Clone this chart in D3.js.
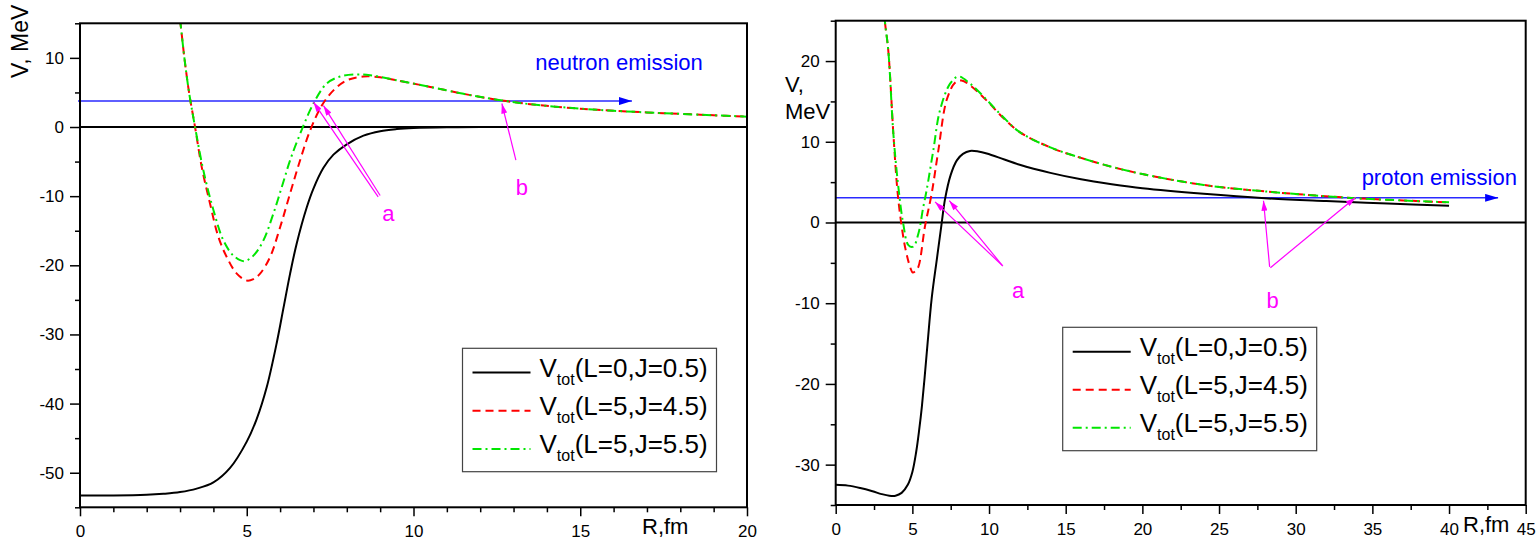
<!DOCTYPE html>
<html><head><meta charset="utf-8">
<script src="https://cdn.jsdelivr.net/npm/d3@7"></script>
<style>
html,body{margin:0;padding:0;background:#fff;}
svg{display:block;font-family:"Liberation Sans",Arial,sans-serif;}
</style></head><body>
<svg id="chart" width="1537" height="543"></svg>
<script>
// ---- Neutron channel: total potential vs distance (R in fm, V in MeV) ----
const neutronL0 = [[0,-53.3],[1,-53.3],[2,-53.2],[2.5,-53.05],[3,-52.8],[3.5,-52.3],[4,-51.4],[4.5,-49.3],[5,-45.5],[5.3,-42.2],[5.6,-37.6],[5.9,-31.2],[6.1,-26.2],[6.3,-21.2],[6.5,-16.8],[6.8,-11.6],[7,-8.9],[7.3,-5.9],[7.6,-4.0],[8,-2.5],[8.5,-1.25],[9,-0.6],[9.5,-0.3],[10,-0.15],[11,-0.04],[12,-0.01],[14,0],[20,0]];
const neutronL5J45 = [[2.85,21],[3.0,15.5],[3.13,10],[3.27,5],[3.45,0],[3.65,-5.8],[3.9,-11.1],[4.15,-15.9],[4.4,-18.8],[4.7,-21.2],[5.0,-22.2],[5.2,-22.0],[5.4,-21.2],[5.7,-18.8],[6.0,-14.5],[6.3,-9.6],[6.6,-4.8],[6.9,-0.5],[7.25,3.1],[7.6,5.3],[8.0,6.75],[8.5,7.3],[9.0,7.2],[9.5,6.75],[10.5,5.8],[11.5,4.8],[12.5,3.95],[13.5,3.3],[15,2.65],[16,2.35],[17.5,2.0],[19,1.7],[20,1.5]];
const neutronL5J55 = [[2.85,21],[3.0,15.5],[3.13,10],[3.27,5],[3.45,0],[3.7,-6.3],[4.0,-12],[4.3,-16.4],[4.6,-18.6],[4.92,-19.4],[5.2,-18.6],[5.5,-16.4],[5.8,-12.5],[6.05,-8.7],[6.3,-4.8],[6.6,-1.0],[7.0,3.4],[7.4,6.3],[7.8,7.3],[8.3,7.6],[8.7,7.5],[9.5,6.75],[10.5,5.8],[11.5,4.8],[12.5,3.95],[13.5,3.3],[15,2.65],[16,2.35],[17.5,2.0],[19,1.7],[20,1.5]];
const neutronXTicks = [0,5,10,15,20];
const neutronYTicks = [-50,-40,-30,-20,-10,0,10];
const neutronEmission = 3.75;

// ---- Proton channel ----
const protonL0 = [[0,-32.5],[0.8,-32.6],[1.6,-32.9],[2.4,-33.3],[3.0,-33.65],[3.5,-33.85],[3.9,-33.85],[4.3,-33.5],[4.7,-32.5],[5.0,-30.9],[5.25,-28.4],[5.45,-25.6],[5.62,-22.8],[5.8,-19.2],[6.0,-14.8],[6.26,-9.4],[6.6,-4.5],[6.91,-0.1],[7.13,2.9],[7.5,5.9],[7.9,7.7],[8.3,8.5],[8.76,8.87],[9.3,8.8],[9.85,8.55],[11,7.8],[12,7.15],[14,6.15],[16,5.35],[18,4.75],[20,4.25],[24,3.55],[28,3.0],[32,2.65],[36,2.35],[40,2.06]];
const protonL5J45 = [[3.05,28],[3.2,25],[3.43,21.3],[3.76,11],[4.0,4.5],[4.19,1.1],[4.52,-3.0],[4.85,-5.5],[5.02,-6.2],[5.2,-6.0],[5.39,-5.5],[5.82,-0.5],[6.26,3.6],[6.7,9.0],[7.24,15.2],[7.78,17.3],[8.2,17.6],[8.76,17.0],[9.85,15.1],[10.9,13.0],[12,11.2],[14,9.3],[16,8.0],[18,6.9],[20,6.0],[24,4.65],[28,3.85],[34,3.0],[40,2.5]];
const protonL5J55 = [[3.05,28],[3.2,25],[3.43,21.3],[3.76,11],[4.08,4.5],[4.4,-0.1],[4.74,-2.8],[5.06,-3.0],[5.39,-1.4],[5.71,1.9],[5.93,4.0],[6.37,9.0],[6.8,13.9],[7.46,17.2],[8.0,18.1],[8.76,17.2],[9.85,15.2],[10.9,13.1],[12,11.2],[14,9.3],[16,8.0],[18,6.9],[20,6.0],[24,4.65],[28,3.85],[34,3.0],[40,2.5]];
const protonXTicks = [0,5,10,15,20,25,30,35,40,45];
const protonYTicks = [-30,-20,-10,0,10,20];
const protonEmission = 3.05;

// ---- Shared legend entries ----
const seriesLabels = ["(L=0,J=0.5)","(L=5,J=4.5)","(L=5,J=5.5)"];
const seriesColors = ["#000000","#ff0000","#00e600"];
const seriesDash = [null,"8,5","9,4,2,4"];

const svg = d3.select("#chart");
const defs = svg.append("defs");
defs.append("marker").attr("id","headMag").attr("viewBox","0 0 10 6")
  .attr("refX",10).attr("refY",3).attr("markerWidth",11).attr("markerHeight",6)
  .attr("orient","auto").attr("markerUnits","userSpaceOnUse")
  .append("path").attr("d","M0,0L10,3L0,6Z").attr("fill","#ff00ff");
defs.append("marker").attr("id","headBlue").attr("viewBox","0 0 13 8")
  .attr("refX",13).attr("refY",4).attr("markerWidth",13).attr("markerHeight",8)
  .attr("orient","auto").attr("markerUnits","userSpaceOnUse")
  .append("path").attr("d","M0,0L13,4L0,8Z").attr("fill","#0000ff");

const panels = [
  {
    id:"n", x0:80, x1:747, y0:23.3, y1:507.3,
    xDomain:[0,20], yDomain:[-55,15],
    xTicks:neutronXTicks, yTicks:neutronYTicks, xMinor:1, yMinor:5,
    series:[neutronL0, neutronL5J45, neutronL5J55],
    emission:neutronEmission, emissionFrom:-0.06, emissionTo:16.55,
    emissionText:"neutron emission", emissionTextAt:[13.65,8.3],
    arrows:[[[8.94,-10.1],[7.0,3.6]],[[9.0,-9.9],[7.3,3.1]],[[13.07,-4.8],[12.65,3.4]]],
    letters:[["a",9.25,-13.6],["b",13.25,-9.8]],
    legend:{x:462.5, y:348.3, w:254, h:123.4, row0:372.5, step:38.2},
    xLabel:{x:642, y:534}
  },
  {
    id:"p", x0:835.7, x1:1525.7, y0:20.7, y1:505,
    xDomain:[0,45], yDomain:[-35,25],
    xTicks:protonXTicks, yTicks:protonYTicks, xMinor:2.5, yMinor:5,
    series:[protonL0, protonL5J45, protonL5J55],
    emission:protonEmission, emissionFrom:0, emissionTo:43.2,
    emissionText:"proton emission", emissionTextAt:[34.3,4.6],
    arrows:[[[10.85,-5.3],[6.48,2.55]],[[10.9,-5.4],[7.41,2.7]],[[28.3,-5.5],[27.9,2.7]],[[28.35,-5.6],[33.9,3.1]]],
    letters:[["a",11.9,-9.3],["b",28.5,-10.6]],
    legend:{x:1062.7, y:327.3, w:254, h:123.4, row0:351.7, step:38},
    xLabel:{x:1463, y:532}
  }
];

const fmt = d => String(d);

panels.forEach(p => {
  const x = d3.scaleLinear().domain(p.xDomain).range([p.x0, p.x1]);
  const y = d3.scaleLinear().domain(p.yDomain).range([p.y1, p.y0]);
  const g = svg.append("g");

  defs.append("clipPath").attr("id","clip-"+p.id).append("rect")
    .attr("x",p.x0).attr("y",p.y0).attr("width",p.x1-p.x0).attr("height",p.y1-p.y0);

  // minor ticks
  const xMinorVals = d3.range(p.xDomain[0], p.xDomain[1]+1e-9, p.xMinor).filter(v => !p.xTicks.includes(v));
  const yMinorVals = d3.range(p.yDomain[0], p.yDomain[1]+1e-9, p.yMinor).filter(v => !p.yTicks.includes(v));
  g.append("g").attr("transform",`translate(0,${p.y1})`)
    .call(d3.axisBottom(x).tickValues(xMinorVals).tickSize(5).tickFormat("").tickSizeOuter(0))
    .call(a => a.select(".domain").remove())
    .call(a => a.selectAll("line").attr("stroke-width",1.5));
  g.append("g").attr("transform",`translate(${p.x0},0)`)
    .call(d3.axisLeft(y).tickValues(yMinorVals).tickSize(5).tickFormat("").tickSizeOuter(0))
    .call(a => a.select(".domain").remove())
    .call(a => a.selectAll("line").attr("stroke-width",1.5));

  // major ticks with labels
  const xa = g.append("g").attr("transform",`translate(0,${p.y1})`)
    .call(d3.axisBottom(x).tickValues(p.xTicks).tickFormat(fmt).tickSize(9).tickPadding(9).tickSizeOuter(0));
  xa.select(".domain").remove();
  xa.selectAll("line").attr("stroke-width",1.5);
  xa.selectAll("text").attr("font-size",17).attr("font-family","Liberation Sans, Arial, sans-serif").attr("fill","#000");
  const ya = g.append("g").attr("transform",`translate(${p.x0},0)`)
    .call(d3.axisLeft(y).tickValues(p.yTicks).tickFormat(fmt).tickSize(10).tickPadding(6).tickSizeOuter(0));
  ya.select(".domain").remove();
  ya.selectAll("line").attr("stroke-width",1.5);
  ya.selectAll("text").attr("font-size",17).attr("font-family","Liberation Sans, Arial, sans-serif").attr("fill","#000");

  // zero line
  g.append("line").attr("x1",p.x0).attr("x2",p.x1).attr("y1",y(0)).attr("y2",y(0))
    .attr("stroke","#000").attr("stroke-width",2);

  // emission level arrow
  g.append("line").attr("x1",x(p.emissionFrom)).attr("x2",x(p.emissionTo))
    .attr("y1",y(p.emission)).attr("y2",y(p.emission))
    .attr("stroke","#2a2aff").attr("stroke-width",1.5).attr("marker-end","url(#headBlue)");
  g.append("text").attr("x",x(p.emissionTextAt[0])).attr("y",y(p.emissionTextAt[1]))
    .attr("font-size",22).attr("fill","#0000ff").text(p.emissionText);

  // potential curves
  const line = d3.line().x(d => x(d[0])).y(d => y(d[1])).curve(d3.curveCatmullRom.alpha(0.5));
  const cg = g.append("g").attr("clip-path",`url(#clip-${p.id})`);
  p.series.forEach((s,i) => {
    cg.append("path").attr("d",line(s)).attr("fill","none")
      .attr("stroke",seriesColors[i]).attr("stroke-width",2)
      .attr("stroke-dasharray",seriesDash[i]);
  });

  // annotation arrows
  p.arrows.forEach(a => {
    g.append("line").attr("x1",x(a[0][0])).attr("y1",y(a[0][1]))
      .attr("x2",x(a[1][0])).attr("y2",y(a[1][1]))
      .attr("stroke","#ff00ff").attr("stroke-width",1.2).attr("marker-end","url(#headMag)");
  });
  p.letters.forEach(l => {
    g.append("text").attr("x",x(l[1])).attr("y",y(l[2])).attr("text-anchor","middle")
      .attr("font-size",22).attr("fill","#ff00ff").text(l[0]);
  });

  // frame
  g.append("rect").attr("x",p.x0).attr("y",p.y0).attr("width",p.x1-p.x0).attr("height",p.y1-p.y0)
    .attr("fill","none").attr("stroke","#000").attr("stroke-width",2);

  // axis title
  g.append("text").attr("x",p.xLabel.x).attr("y",p.xLabel.y).attr("font-size",22).text("R,fm");

  // legend
  const L = p.legend;
  const lg = g.append("g");
  lg.append("rect").attr("x",L.x).attr("y",L.y).attr("width",L.w).attr("height",L.h)
    .attr("fill","#fff").attr("stroke","#444").attr("stroke-width",1.2);
  seriesLabels.forEach((lab,i) => {
    const yy = L.row0 + i*L.step;
    lg.append("line").attr("x1",L.x+10).attr("x2",L.x+68).attr("y1",yy).attr("y2",yy)
      .attr("stroke",seriesColors[i]).attr("stroke-width",2).attr("stroke-dasharray",seriesDash[i]);
    const t = lg.append("text").attr("x",L.x+77).attr("y",yy+4).attr("font-size",26);
    t.append("tspan").text("V");
    t.append("tspan").attr("font-size",16).attr("dy",8.5).text("tot");
    t.append("tspan").attr("dy",-8.5).text(lab);
  });
});

// vertical axis titles
svg.append("text").attr("transform","translate(28,78) rotate(-90)")
  .attr("font-size",23).text("V, MeV");
svg.append("text").attr("x",785).attr("y",92).attr("font-size",22).text("V,");
svg.append("text").attr("x",785).attr("y",119).attr("font-size",22).text("MeV");
</script>
</body></html>
